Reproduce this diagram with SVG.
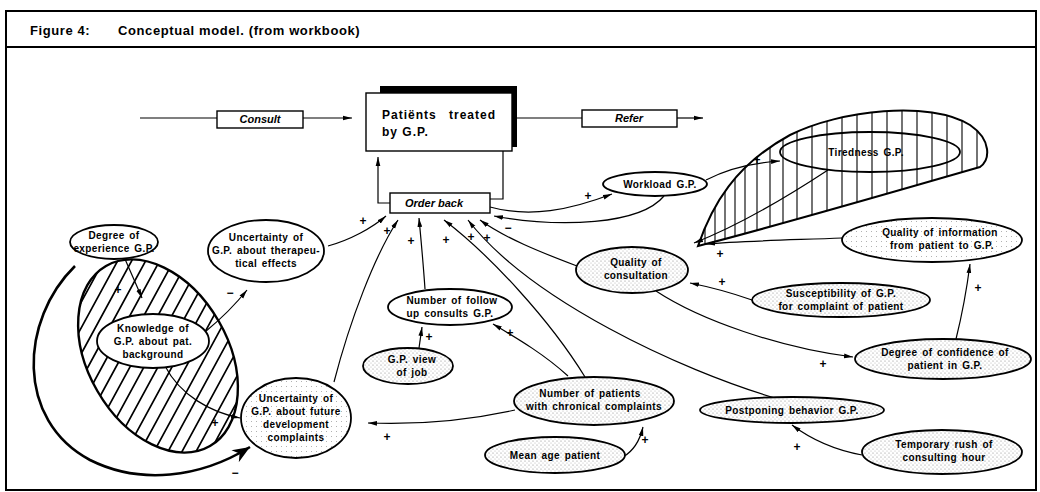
<svg xmlns="http://www.w3.org/2000/svg" width="1040" height="492" viewBox="0 0 1040 492">
<defs>
<style>
.frame{fill:none;stroke:#000;stroke-width:2}
.box{fill:#fff;stroke:#000;stroke-width:1.4}
.node{stroke:#000;stroke-width:1.8}
.w{fill:#fff}
.s{fill:url(#dots)}
.sl{fill:url(#dotsl)}
.lbl{font-family:"Liberation Sans",Arial,sans-serif;font-size:10px;font-weight:bold;letter-spacing:0.4px;word-spacing:1.5px;text-anchor:middle;fill:#000}
.it{font-family:"Liberation Sans",Arial,sans-serif;font-size:11px;font-style:italic;font-weight:bold;text-anchor:middle;fill:#000}
.hdr{font-family:"Liberation Sans",Arial,sans-serif;font-size:13px;font-weight:bold;letter-spacing:0.6px;fill:#000}
.ttl{font-family:"Liberation Sans",Arial,sans-serif;font-size:12px;font-weight:bold;letter-spacing:1px;fill:#000}
.sign{font-family:"Liberation Sans",Arial,sans-serif;font-size:12px;font-weight:bold;text-anchor:middle;fill:#000}
.c{fill:none;stroke:#000;stroke-width:1.2;marker-end:url(#ah)}
.cn{fill:none;stroke:#000;stroke-width:1.2}
.hatch{fill:none;stroke:#000;stroke-width:1.7}
.vh{fill:none;stroke:#000;stroke-width:1.1}
</style>
<pattern id="dots" width="4" height="4" patternUnits="userSpaceOnUse">
<rect width="4" height="4" fill="#fff"/>
<circle cx="1" cy="1" r="0.6" fill="#888"/>
<circle cx="3" cy="3" r="0.5" fill="#aaa"/>
</pattern>
<pattern id="dotsl" width="5" height="5" patternUnits="userSpaceOnUse">
<rect width="5" height="5" fill="#fff"/>
<circle cx="1.5" cy="1.5" r="0.5" fill="#999"/>
</pattern>
<marker id="ah" viewBox="0 0 10 6" refX="10" refY="3" markerWidth="9" markerHeight="5.4" markerUnits="userSpaceOnUse" orient="auto">
<path d="M0,0.4 L10,3 L0,5.6 z" fill="#000"/>
</marker>
<marker id="ahb" viewBox="0 0 10 8" refX="10" refY="4" markerWidth="18" markerHeight="14" markerUnits="userSpaceOnUse" orient="auto">
<path d="M0,0 L10,4 L0,8 L3,4 z" fill="#000"/>
</marker>
<clipPath id="clipL">
<ellipse cx="0" cy="0" rx="104" ry="70" transform="translate(158,356) rotate(60)"/>
</clipPath>
<clipPath id="clipT">
<path d="M698,246 C712,205 735,165 790,135 C840,110 930,100 970,125 C992,140 990,160 980,167 C900,190 780,225 698,246 Z"/>
</clipPath>
</defs>

<g id="frame">
<rect class="frame" x="6" y="11" width="1030" height="479"/>
<line class="frame" x1="6" y1="47" x2="1036" y2="47"/>
<text class="hdr" x="30" y="35">Figure 4:</text>
<text class="hdr" x="118" y="35">Conceptual model. (from workbook)</text>
</g>

<g id="loop-left">
<g clip-path="url(#clipL)">
<path class="hatch" d="M-10,470L115,240 M4,470L129,240 M18,470L143,240 M32,470L157,240 M46,470L171,240 M60,470L185,240 M74,470L199,240 M88,470L213,240 M102,470L227,240 M116,470L241,240 M130,470L255,240 M144,470L269,240 M158,470L283,240 M172,470L297,240 M186,470L311,240 M200,470L325,240 M214,470L339,240 M228,470L353,240 M242,470L367,240"/>
</g>
<ellipse cx="0" cy="0" rx="104" ry="70" transform="translate(158,356) rotate(60)" fill="none" stroke="#000" stroke-width="2.4"/>
</g>

<g id="loop-right">
<g clip-path="url(#clipT)">
<path class="vh" d="M705,100V250 M715,100V250 M725,100V250 M735,100V250 M745,100V250 M757,100V250 M770,100V250 M783,100V250 M797,100V250 M812,100V250 M827,100V250 M842,100V250 M857,100V250 M872,100V250 M887,100V250 M902,100V250 M917,100V250 M932,100V250 M947,100V250 M962,100V250 M977,100V250"/>
</g>
<path d="M698,246 C712,205 735,165 790,135 C840,110 930,100 970,125 C992,140 990,160 980,167 C900,190 780,225 698,246 Z" fill="none" stroke="#000" stroke-width="2"/>
</g>

<g id="connectors">
<path class="cn" d="M140,118 L217,118"/>
<path class="c" d="M303,118 L352,118"/>
<path class="cn" d="M512,118 L582,118"/>
<path class="c" d="M677,118 L703,118"/>
<path class="c" d="M390,203 L378,203 L378,157"/>
<path class="cn" d="M503,151 L503,199 L490,199"/>
<path class="c" d="M328,246 C350,240 372,228 386,216"/>
<path class="c" d="M334,382 C350,320 375,255 398,220"/>
<path class="c" d="M425,289 C423,260 421,240 419,218"/>
<path class="c" d="M585,377 C550,320 490,255 444,220"/>
<path class="c" d="M775,398 C680,370 530,300 468,220"/>
<path class="c" d="M577,266 C540,252 505,238 480,220"/>
<path class="c" d="M490,207 C530,218 570,210 612,194"/>
<path class="c" d="M664,196 C640,225 560,228 494,216"/>
<path class="c" d="M706,180 C725,170 748,163 780,161"/>
<path class="c" d="M828,170 C790,195 740,225 694,243"/>
<path class="c" d="M842,238 C790,240 740,241 706,244"/>
<path class="c" d="M752,300 C735,294 715,288 690,283"/>
<path class="c" d="M656,291 C700,320 780,348 853,357"/>
<path class="c" d="M956,339 C962,315 966,295 970,264"/>
<path class="c" d="M862,455 C835,450 812,440 792,425"/>
<path class="c" d="M623,457 C635,450 640,440 643,427"/>
<path class="c" d="M515,410 C470,420 420,425 368,423"/>
<path class="c" d="M568,376 C545,355 520,340 493,324"/>
<path class="c" d="M419,348 L422,327"/>
<path class="c" d="M125,259 L142,298"/>
<path class="c" d="M205,332 C222,318 235,305 247,290"/>
<path class="c" d="M165,366 C180,395 210,412 240,418"/>
<path d="M75,266 C20,320 15,420 90,460 C140,485 200,478 250,447" fill="none" stroke="#000" stroke-width="2.6" marker-end="url(#ahb)"/>
</g>

<g id="signs">
<text class="sign" x="363" y="225">+</text>
<text class="sign" x="387" y="235">+</text>
<text class="sign" x="411" y="245">+</text>
<text class="sign" x="446" y="244">+</text>
<text class="sign" x="471" y="241">+</text>
<text class="sign" x="487" y="242">+</text>
<text class="sign" x="588" y="200">+</text>
<text class="sign" x="508" y="232">−</text>
<text class="sign" x="757" y="164">+</text>
<text class="sign" x="720" y="258">+</text>
<text class="sign" x="722" y="286">+</text>
<text class="sign" x="823" y="368">+</text>
<text class="sign" x="978" y="292">+</text>
<text class="sign" x="797" y="451">+</text>
<text class="sign" x="645" y="444">+</text>
<text class="sign" x="387" y="441">+</text>
<text class="sign" x="510" y="337">+</text>
<text class="sign" x="429" y="341">+</text>
<text class="sign" x="230" y="297">−</text>
<text class="sign" x="118" y="294">+</text>
<text class="sign" x="215" y="427">+</text>
<text class="sign" x="235" y="477">−</text>
</g>

<g id="patients">
<path d="M380,86 H517 V147 H511 V93 H380 Z" fill="#000"/>
<rect class="box" x="366" y="93" width="146" height="58"/>
<text class="ttl" x="382" y="119">Patiënts</text>
<text class="ttl" x="449" y="119">treated</text>
<text class="ttl" x="382" y="136">by G.P.</text>
</g>
<g id="consult">
<rect class="box" x="217" y="111" width="86" height="17"/>
<text class="it" x="260" y="123">Consult</text>
</g>
<g id="refer">
<rect class="box" x="582" y="110" width="95" height="17"/>
<text class="it" x="629" y="122">Refer</text>
</g>
<g id="orderback">
<rect class="box" x="390" y="193" width="100" height="20"/>
<text class="it" x="434" y="207">Order back</text>
</g>

<g id="n-experience">
<ellipse class="node w" cx="114" cy="242" rx="44" ry="17"/>
<text class="lbl" x="114" y="239">Degree of</text>
<text class="lbl" x="114" y="252">experience G.P.</text>
</g>
<g id="n-uncther">
<ellipse class="node w" cx="266" cy="251" rx="58" ry="31"/>
<text class="lbl" x="266" y="241">Uncertainty of</text>
<text class="lbl" x="266" y="254">G.P. about therapeu-</text>
<text class="lbl" x="266" y="267">tical effects</text>
</g>
<g id="n-knowledge">
<ellipse class="node w" cx="153" cy="341" rx="56" ry="27"/>
<text class="lbl" x="153" y="332">Knowledge of</text>
<text class="lbl" x="153" y="345">G.P. about pat.</text>
<text class="lbl" x="153" y="358">background</text>
</g>
<g id="n-uncfut">
<ellipse class="node sl" cx="296" cy="418" rx="55" ry="40"/>
<text class="lbl" x="296" y="402">Uncertainty of</text>
<text class="lbl" x="296" y="415">G.P. about future</text>
<text class="lbl" x="296" y="428">development</text>
<text class="lbl" x="296" y="441">complaints</text>
</g>
<g id="n-followup">
<ellipse class="node w" cx="450" cy="307" rx="62" ry="18"/>
<text class="lbl" x="452" y="304">Number of follow</text>
<text class="lbl" x="450" y="317">up consults G.P.</text>
</g>
<g id="n-view">
<ellipse class="node s" cx="408" cy="366" rx="45" ry="18"/>
<text class="lbl" x="412" y="363">G.P. view</text>
<text class="lbl" x="412" y="376">of job</text>
</g>
<g id="n-numpat">
<ellipse class="node s" cx="594" cy="401" rx="80" ry="24"/>
<text class="lbl" x="590" y="397">Number of patients</text>
<text class="lbl" x="594" y="410">with chronical complaints</text>
</g>
<g id="n-meanage">
<ellipse class="node s" cx="555" cy="455" rx="70" ry="18"/>
<text class="lbl" x="555" y="459">Mean age patient</text>
</g>
<g id="n-workload">
<ellipse class="node w" cx="655" cy="184" rx="52" ry="12"/>
<text class="lbl" x="660" y="188">Workload G.P.</text>
</g>
<g id="n-tiredness">
<ellipse class="node" cx="870" cy="152" rx="90" ry="20" fill="none" stroke-width="2"/>
<text class="lbl" x="866" y="156">Tiredness G.P.</text>
</g>
<g id="n-qoc">
<ellipse class="node s" cx="632" cy="270" rx="56" ry="23"/>
<text class="lbl" x="636" y="266">Quality of</text>
<text class="lbl" x="636" y="279">consultation</text>
</g>
<g id="n-qoi">
<ellipse class="node sl" cx="932" cy="240" rx="90" ry="22"/>
<text class="lbl" x="940" y="236">Quality of information</text>
<text class="lbl" x="942" y="249">from patient to G.P.</text>
</g>
<g id="n-susc">
<ellipse class="node s" cx="841" cy="300" rx="89" ry="17"/>
<text class="lbl" x="841" y="297">Susceptibility of G.P.</text>
<text class="lbl" x="841" y="310">for complaint of patient</text>
</g>
<g id="n-conf">
<ellipse class="node s" cx="943" cy="359" rx="88" ry="20"/>
<text class="lbl" x="945" y="356">Degree of confidence of</text>
<text class="lbl" x="945" y="369">patient in G.P.</text>
</g>
<g id="n-postpone">
<ellipse class="node s" cx="792" cy="410" rx="92" ry="13"/>
<text class="lbl" x="792" y="414">Postponing behavior G.P.</text>
</g>
<g id="n-rush">
<ellipse class="node s" cx="942" cy="452" rx="80" ry="22"/>
<text class="lbl" x="944" y="448">Temporary rush of</text>
<text class="lbl" x="944" y="461">consulting hour</text>
</g>
</svg>
